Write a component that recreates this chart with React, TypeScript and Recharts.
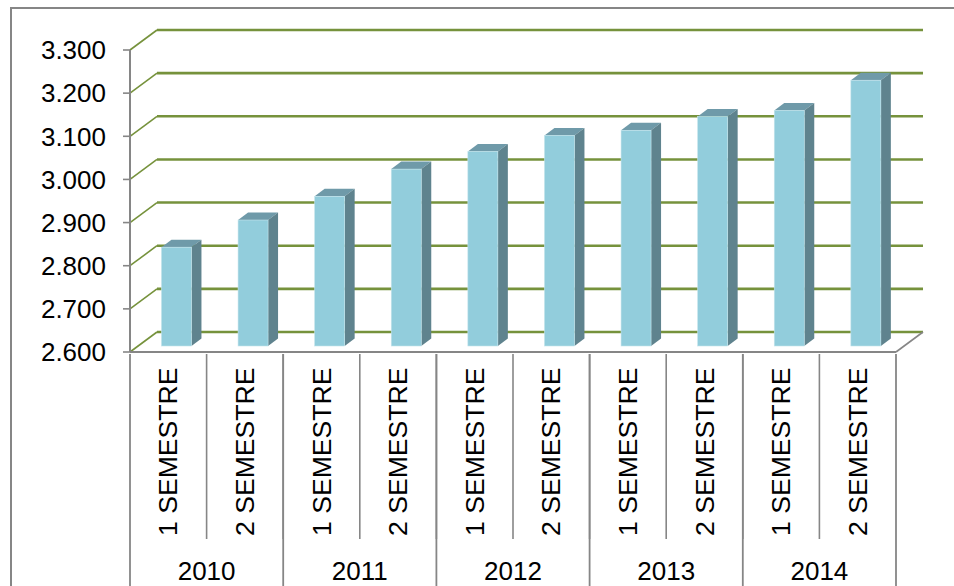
import { Bar, BarChart, CartesianGrid, XAxis, YAxis } from "recharts";

const SEMESTERS = [
  "1 SEMESTRE", "2 SEMESTRE", "1 SEMESTRE", "2 SEMESTRE", "1 SEMESTRE",
  "2 SEMESTRE", "1 SEMESTRE", "2 SEMESTRE", "1 SEMESTRE", "2 SEMESTRE",
];
const YEARS = ["2010", "2010", "2011", "2011", "2012", "2012", "2013", "2013", "2014", "2014"];
const VALUES = [2829, 2892, 2947, 3010, 3051, 3088, 3100, 3132, 3146, 3216];
const Y_TICKS = [2600, 2700, 2800, 2900, 3000, 3100, 3200, 3300];

const FONT = "'Liberation Sans', Arial, sans-serif";
const FONT_SIZE = 26;
const GRAY = "#868686";
const GREEN = "#76923c";

// décalage du mur du fond (faux 3D façon Excel)
const WALL_DX = 27;
const WALL_DY = -20;
const BAND = 76.6;
const SEM_AXIS_H = 190;
const YEAR_AXIS_H = 44;

const rows = VALUES.map((v, i) => ({ semester: SEMESTERS[i], year: YEARS[i], value: v }));

function fmtThousands(v: number): string {
  return String(v).replace(/\B(?=(\d{3})+$)/g, ".");
}

function WallLine(props: any) {
  const { x1, x2, y1, index } = props;
  const bx1 = x1 + WALL_DX;
  const bx2 = x2 + WALL_DX;
  const by = y1 + WALL_DY;
  return (
    <g>
      <line x1={x1} y1={y1} x2={bx1} y2={by} stroke={GREEN} strokeWidth={1.6} />
      <line x1={bx1} y1={by} x2={bx2} y2={by} stroke={GREEN} strokeWidth={2.6} />
      {index === 0 && <line x1={x2} y1={y1} x2={bx2} y2={by} stroke={GRAY} strokeWidth={1.6} />}
    </g>
  );
}

function Bar3D(props: any) {
  const { x, y, width, height } = props;
  const dx = 8.4;
  const dy = -6;
  const sx = 10;
  const sy = -7.5;
  const l = x + dx;
  const r = l + width;
  const t = y + dy;
  const b = t + height;
  return (
    <g>
      <polygon
        points={`${l},${t} ${r},${t} ${r + sx},${t + sy} ${l + sx},${t + sy}`}
        fill="#6f9aa9"
      />
      <polygon
        points={`${r},${t} ${r + sx},${t + sy} ${r + sx},${b + sy} ${r},${b}`}
        fill="#5f838e"
      />
      <rect x={l} y={t} width={width} height={height} fill="#92cddc" stroke="#c4e4ec" strokeWidth={0.6} />
    </g>
  );
}

function SemesterTick(props: any) {
  const { x, y, payload, index } = props;
  return (
    <g>
      {index > 0 && (
        <line x1={x - BAND / 2} y1={y} x2={x - BAND / 2} y2={y + 185} stroke={GRAY} strokeWidth={1.6} />
      )}
      <text
        x={x + 9}
        y={y + 182}
        transform={`rotate(-90 ${x + 9} ${y + 182})`}
        textAnchor="start"
        fontFamily={FONT}
        fontSize={26.6}
        fill="#000"
      >
        {payload.value}
      </text>
    </g>
  );
}

function YearTick(props: any) {
  const { x, y, payload, index } = props;
  const top = y - SEM_AXIS_H;
  const bottom = y + YEAR_AXIS_H;
  const isFirst = index % 2 === 0;
  return (
    <g>
      {isFirst && <line x1={x - BAND / 2} y1={top} x2={x - BAND / 2} y2={bottom} stroke={GRAY} strokeWidth={1.8} />}
      {!isFirst && index === rows.length - 1 && (
        <line x1={x + BAND / 2} y1={top} x2={x + BAND / 2} y2={bottom} stroke={GRAY} strokeWidth={1.8} />
      )}
      {isFirst && (
        <text x={x + BAND / 2} y={y + 36} textAnchor="middle" fontFamily={FONT} fontSize={FONT_SIZE} fill="#000">
          {payload.value}
        </text>
      )}
    </g>
  );
}

export default function App() {
  return (
    <div style={{ position: "absolute", left: 0, top: 0, width: 954, height: 586, overflow: "hidden", background: "#fff" }}>
      <div
        style={{
          position: "absolute",
          left: 10,
          top: 7,
          width: 960,
          height: 600,
          borderLeft: `2px solid ${GRAY}`,
          borderTop: `2px solid ${GRAY}`,
        }}
      />
      <div style={{ position: "absolute", left: 0, top: 0 }}>
        <BarChart
          width={954}
          height={586}
          data={rows}
          margin={{ top: 50, right: 58, bottom: 0, left: 0 }}
          barCategoryGap="30.1%"
        >
          <CartesianGrid vertical={false} horizontal={(p: any) => <WallLine key={p.key} {...p} />} />
          <YAxis
            type="number"
            domain={[2600, 3300]}
            ticks={Y_TICKS}
            interval={0}
            width={130}
            tickFormatter={fmtThousands}
            tickSize={7}
            tickMargin={17}
            axisLine={{ stroke: GRAY, strokeWidth: 2 }}
            tickLine={{ stroke: GRAY, strokeWidth: 1.6 }}
            tick={{ fontFamily: FONT, fontSize: FONT_SIZE, fill: "#000" }}
          />
          <XAxis
            dataKey="semester"
            xAxisId={0}
            height={SEM_AXIS_H}
            interval={0}
            tickSize={0}
            tickLine={false}
            axisLine={{ stroke: GRAY, strokeWidth: 2 }}
            tick={<SemesterTick />}
          />
          <XAxis
            dataKey="year"
            xAxisId={1}
            height={YEAR_AXIS_H}
            interval={0}
            tickSize={0}
            tickLine={false}
            axisLine={false}
            tick={<YearTick />}
          />
          <Bar dataKey="value" xAxisId={0} shape={<Bar3D />} isAnimationActive={false} />
        </BarChart>
      </div>
    </div>
  );
}
